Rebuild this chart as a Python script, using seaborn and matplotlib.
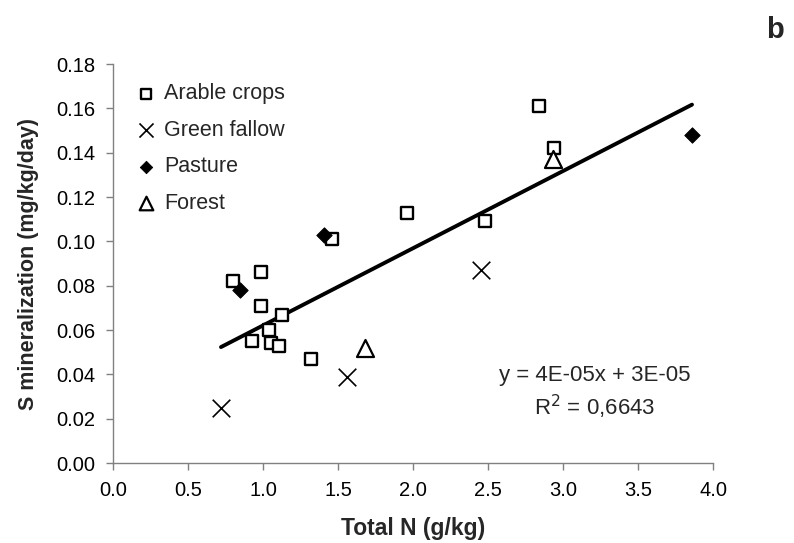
import matplotlib
matplotlib.use("Agg")
import matplotlib.pyplot as plt
import seaborn as sns
import numpy as np
import pandas as pd
from matplotlib.ticker import FormatStrFormatter

sns.set_theme(style="white")
plt.rcParams['font.family'] = ['Liberation Sans', 'DejaVu Sans']

arable_x = [0.80, 0.985, 0.985, 1.127, 1.042, 0.927, 1.051, 1.109, 1.318, 1.46, 1.962, 2.48, 2.842, 2.94]
arable_y = [0.082, 0.086, 0.071, 0.067, 0.060, 0.055, 0.054, 0.053, 0.047, 0.101, 0.113, 0.109, 0.161, 0.142]
fallow_x = [0.72, 1.56, 2.45]
fallow_y = [0.025, 0.039, 0.087]
pasture_x = [0.85, 1.41, 3.86]
pasture_y = [0.078, 0.103, 0.148]
forest_x = [1.68, 2.93]
forest_y = [0.052, 0.137]

categories = ["Arable crops", "Green fallow", "Pasture", "Forest"]
xs = [arable_x, fallow_x, pasture_x, forest_x]
ys = [arable_y, fallow_y, pasture_y, forest_y]

x_ticks = [0.0, 0.5, 1.0, 1.5, 2.0, 2.5, 3.0, 3.5, 4.0]
y_ticks = [0.00, 0.02, 0.04, 0.06, 0.08, 0.10, 0.12, 0.14, 0.16, 0.18]

df = pd.concat([pd.DataFrame({"x": x, "y": y, "type": c}) for c, x, y in zip(categories, xs, ys)],
               ignore_index=True)

fig = plt.figure(figsize=(7.94, 5.43), dpi=100)
ax = fig.add_axes([0.1423, 0.1473, 0.7557, 0.7348])

styles = {
    "Arable crops": dict(marker="s", s=72, facecolor="white", edgecolor="black", linewidth=1.7),
    "Green fallow": dict(marker="x", s=160, color="black", linewidth=1.2),
    "Pasture": dict(marker="D", s=62, color="black", edgecolor="black"),
    "Forest": dict(marker="^", s=150, facecolor="white", edgecolor="black", linewidth=1.6),
}

sns.regplot(data=df, x="x", y="y", ax=ax, scatter=False, ci=None, truncate=True,
            line_kws=dict(color="black", linewidth=2.8, zorder=2))

for c in categories:
    sub = df[df["type"] == c]
    sns.scatterplot(data=sub, x="x", y="y", ax=ax, label=c, zorder=3, **styles[c])

ax.set_xlim(0, 4.0)
ax.set_ylim(0, 0.18)
ax.set_xticks(x_ticks)
ax.set_yticks(y_ticks)
ax.xaxis.set_major_formatter(FormatStrFormatter("%.1f"))
ax.yaxis.set_major_formatter(FormatStrFormatter("%.2f"))
ax.tick_params(axis="both", which="major", direction="out", length=5, width=1,
               color="#808080", labelsize=14.5, labelcolor="black", bottom=True, left=True)
ax.tick_params(axis="y", pad=8)
ax.tick_params(axis="x", pad=8)
for side in ["top", "right"]:
    ax.spines[side].set_visible(False)
for side in ["left", "bottom"]:
    ax.spines[side].set_color("#808080")
    ax.spines[side].set_linewidth(1)

ax.set_xlabel("Total N (g/kg)", fontsize=16.5, fontweight="bold", labelpad=12)
ax.set_ylabel("S mineralization (mg/kg/day)", fontsize=15.5, fontweight="bold", labelpad=12)

leg = ax.legend(loc="upper left", bbox_to_anchor=(0.008, 0.995), frameon=False, fontsize=15.5,
                handlelength=1.0, handletextpad=0.35, labelspacing=0.72, borderaxespad=0.4,
                markerscale=0.8)

ax.text(3.21, 0.0395, "y = 4E-05x + 3E-05", fontsize=16, ha="center", va="center")
ax.text(3.21, 0.0255, "R$^2$ = 0,6643", fontsize=16, ha="center", va="center")

fig.text(0.976, 0.945, "b", fontsize=21, fontweight="bold", ha="center", va="center")

fig.savefig("out.png", dpi=100)
